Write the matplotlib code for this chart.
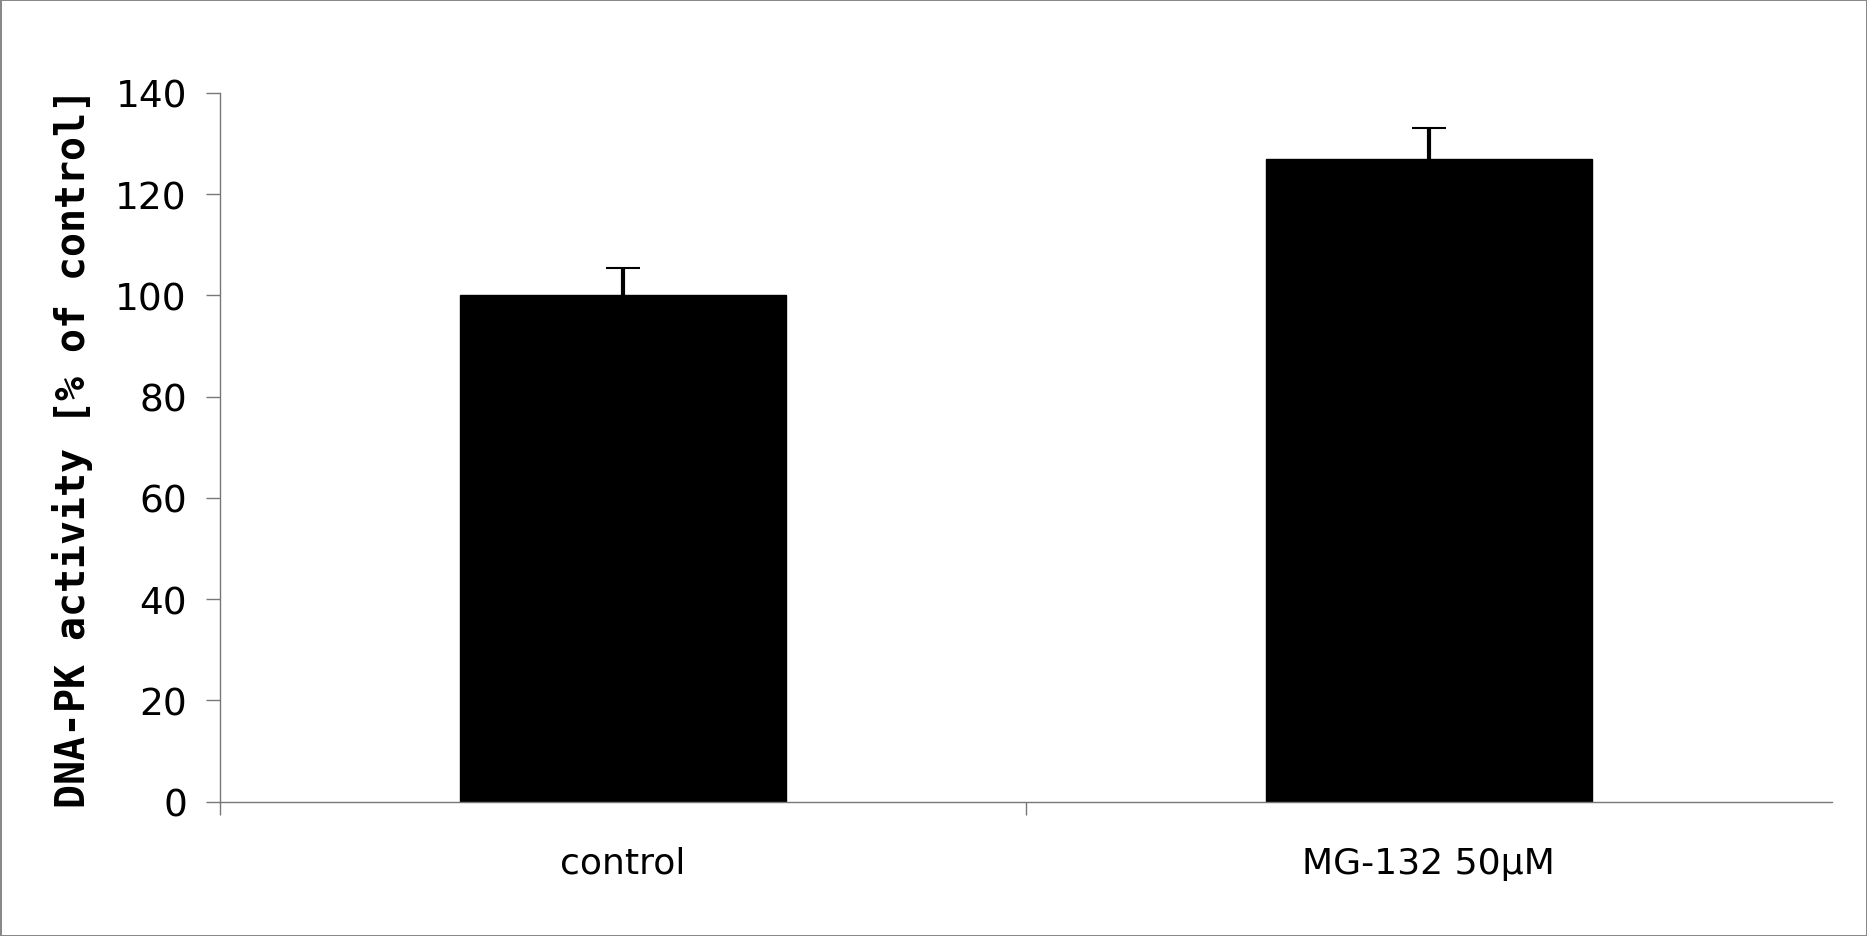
import numpy as np
import matplotlib
matplotlib.use('Agg')
import matplotlib.pyplot as plt

# values
categories = ['control', 'MG-132 50\u00b5M']
activity = [100, 127]
errors = [5.5, 6]
y_ticks = [0, 20, 40, 60, 80, 100, 120, 140]

fig = plt.figure(figsize=(18.67, 9.37), dpi=100)
fig.patch.set_edgecolor('#888888')
fig.patch.set_linewidth(2)
ax = fig.add_axes([0.118, 0.1435, 0.863, 0.7562])

x = np.arange(len(categories))
ax.bar(x, activity, width=0.405, color='black', edgecolor='black', linewidth=1)
eb = ax.errorbar(x, activity, yerr=[np.zeros(len(errors)), errors], fmt='none',
                 ecolor='black', elinewidth=3, capsize=12, capthick=1.5)
# only the upper cap is drawn in the original
eb[1][0].set_visible(False)

ax.set_xlim(-0.5, 1.5)
ax.set_ylim(0, 140)
ax.set_yticks(y_ticks)
ax.set_yticklabels([str(v) for v in y_ticks], fontsize=27, family='DejaVu Sans')

ax.set_xticks(x)
ax.set_xticklabels(categories, fontsize=26)
ax.set_xticks([-0.5, 0.5], minor=True)
ax.tick_params(axis='x', which='major', length=0, pad=32)
ax.tick_params(axis='x', which='minor', length=9, width=1, color='#777777')
ax.tick_params(axis='y', length=10, width=1, color='#777777', pad=14)

for side in ['top', 'right']:
    ax.spines[side].set_visible(False)
for side in ['left', 'bottom']:
    ax.spines[side].set_color('#777777')
    ax.spines[side].set_linewidth(1)

ax.set_ylabel('DNA-PK activity [% of control]', fontsize=28.7,
              family='DejaVu Sans Mono', fontweight='bold')
ax.yaxis.set_label_coords(-0.079, 0.5)

fig.savefig('out.png', dpi=100)
